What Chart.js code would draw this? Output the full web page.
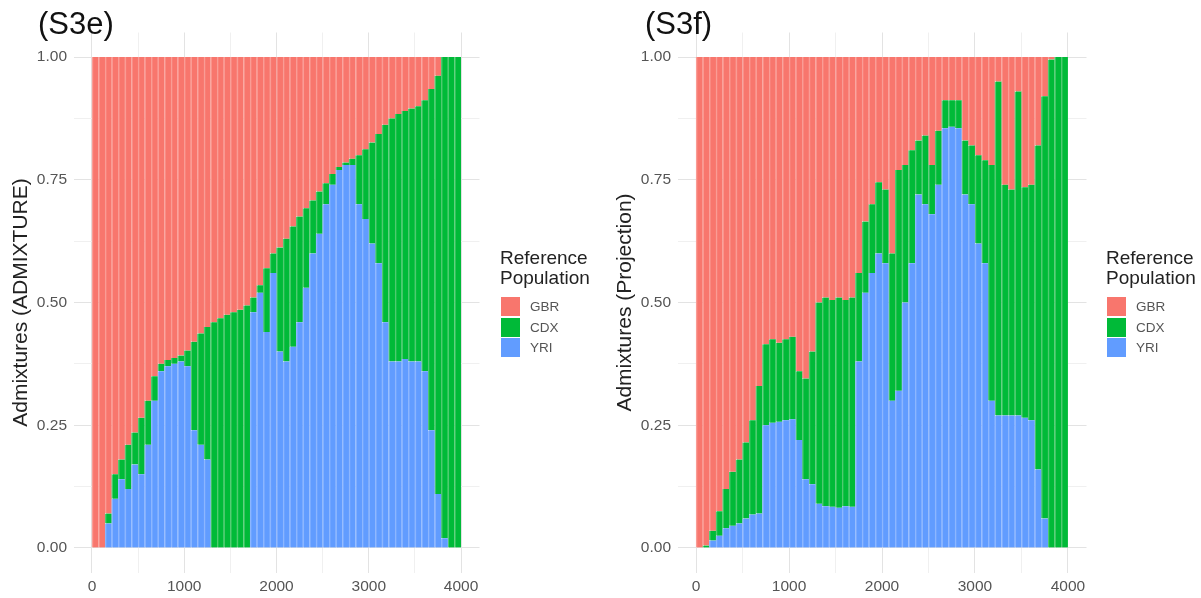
<!DOCTYPE html>
<html>
<head>
<meta charset="utf-8">
<script src="https://cdn.jsdelivr.net/npm/chart.js@4.4.1/dist/chart.umd.min.js"></script>
<style>
  html, body { margin: 0; padding: 0; background: #fff; width: 1201px; height: 598px; overflow: hidden;
    font-family: "Liberation Sans", Arial, sans-serif; }
  .panel { position: absolute; top: 0; height: 598px; }
  canvas { display: block; }
  .tag { position: absolute; top: 8px; font-size: 31px; line-height: 31px; color: #111; white-space: nowrap; }
  .legend { position: absolute; top: 0; }
  .legend .ttl { position: absolute; font-size: 19px; line-height: 20px; color: #222; white-space: nowrap; }
  .legend .key { position: absolute; width: 19px; height: 19px; }
  .legend .lbl { position: absolute; font-size: 13.5px; line-height: 19px; color: #555; }
</style>
</head>
<body>
<div class="panel" style="left:0;width:600px"><canvas id="admix" width="600" height="598"></canvas></div>
<div class="panel" style="left:600px;width:601px"><canvas id="proj" width="601" height="598"></canvas></div>
<div class="tag" style="left:38px">(S3e)</div>
<div class="tag" style="left:645px">(S3f)</div>
<div class="legend" id="legAdmix" style="left:500px"></div>
<div class="legend" id="legProj" style="left:1106px"></div>

<script>
// Reference populations, in legend order (top of stack first)
const populations = ['GBR', 'CDX', 'YRI'];
const popColors = { GBR: '#F8766D', CDX: '#00BA38', YRI: '#619CFF' };
const stripeColors = { GBR: '#FA9C95', CDX: '#4ECB70', YRI: '#8CB6FF' };
const legendTitle = ['Reference', 'Population'];

// Axis ticks
const nSamples = 4000;
const sampleTicks = [0, 1000, 2000, 3000, 4000];
const sampleMinorTicks = [500, 1500, 2500, 3500];
const shareTicks = [0, 0.25, 0.5, 0.75, 1];
const shareMinorTicks = [0.125, 0.375, 0.625, 0.875];

// Admixture proportions per block of samples (ADMIXTURE run)
const admixYRI = [0, 0, 0.05, 0.10, 0.14, 0.12, 0.17, 0.15, 0.21, 0.30,
  0.36, 0.37, 0.375, 0.38, 0.37, 0.24, 0.21, 0.18, 0, 0,
  0, 0, 0, 0, 0.48, 0.52, 0.44, 0.56, 0.40, 0.38,
  0.41, 0.46, 0.53, 0.60, 0.64, 0.70, 0.74, 0.77, 0.78, 0.78,
  0.70, 0.67, 0.62, 0.58, 0.46, 0.38, 0.38, 0.385, 0.38, 0.38,
  0.36, 0.24, 0.11, 0.02, 0, 0];
const admixCDX = [0, 0, 0.02, 0.05, 0.04, 0.09, 0.065, 0.115, 0.09, 0.05,
  0.015, 0.013, 0.012, 0.012, 0.032, 0.18, 0.227, 0.27, 0.46, 0.468,
  0.475, 0.48, 0.485, 0.494, 0.03, 0.015, 0.13, 0.04, 0.212, 0.25,
  0.245, 0.215, 0.162, 0.108, 0.086, 0.043, 0.022, 0.006, 0.005, 0.013,
  0.10, 0.142, 0.206, 0.263, 0.402, 0.495, 0.504, 0.505, 0.515, 0.52,
  0.552, 0.695, 0.852, 0.98, 1, 1];
const admixGBR = [1, 1, 0.93, 0.85, 0.82, 0.79, 0.765, 0.735, 0.70, 0.65,
  0.625, 0.617, 0.613, 0.608, 0.598, 0.58, 0.563, 0.55, 0.54, 0.532,
  0.525, 0.52, 0.515, 0.506, 0.49, 0.465, 0.43, 0.40, 0.388, 0.37,
  0.345, 0.325, 0.308, 0.292, 0.274, 0.257, 0.238, 0.224, 0.215, 0.207,
  0.20, 0.188, 0.174, 0.157, 0.138, 0.125, 0.116, 0.11, 0.105, 0.10,
  0.088, 0.065, 0.038, 0, 0, 0];

// Admixture proportions per block of samples (projection run)
const projYRI = [0, 0, 0.015, 0.025, 0.04, 0.045, 0.05, 0.06, 0.068, 0.07,
  0.25, 0.255, 0.257, 0.26, 0.262, 0.22, 0.14, 0.13, 0.09, 0.085,
  0.084, 0.082, 0.085, 0.084, 0.38, 0.52, 0.56, 0.60, 0.58, 0.30,
  0.32, 0.50, 0.58, 0.72, 0.70, 0.68, 0.74, 0.855, 0.858, 0.855,
  0.72, 0.70, 0.62, 0.58, 0.30, 0.27, 0.27, 0.27, 0.27, 0.265,
  0.26, 0.16, 0.06, 0, 0, 0];
const projCDX = [0, 0.005, 0.02, 0.05, 0.08, 0.11, 0.13, 0.155, 0.192, 0.26,
  0.165, 0.17, 0.161, 0.165, 0.168, 0.14, 0.205, 0.27, 0.41, 0.425,
  0.421, 0.428, 0.42, 0.426, 0.18, 0.145, 0.14, 0.145, 0.15, 0.30,
  0.45, 0.28, 0.23, 0.11, 0.14, 0.10, 0.11, 0.057, 0.054, 0.057,
  0.11, 0.12, 0.18, 0.21, 0.48, 0.68, 0.47, 0.46, 0.66, 0.47,
  0.48, 0.66, 0.86, 0.995, 1, 1];
const projGBR = [1, 0.995, 0.965, 0.925, 0.88, 0.845, 0.82, 0.785, 0.74, 0.67,
  0.585, 0.575, 0.582, 0.575, 0.57, 0.64, 0.655, 0.60, 0.50, 0.49,
  0.495, 0.49, 0.495, 0.49, 0.44, 0.335, 0.30, 0.255, 0.27, 0.40,
  0.23, 0.22, 0.19, 0.17, 0.16, 0.22, 0.15, 0.088, 0.088, 0.088,
  0.17, 0.18, 0.20, 0.21, 0.22, 0.05, 0.26, 0.27, 0.07, 0.265,
  0.26, 0.18, 0.08, 0.005, 0, 0];

// Each value covers an equal block of the sorted samples
const binWidth = nSamples / admixYRI.length;
const binCenters = admixYRI.map((_, i) => (i + 0.5) * binWidth);

const FONT = '"Liberation Sans", Arial, sans-serif';
const majorX = new Set(sampleTicks);
const majorY = new Set(shareTicks);

function makePanel(canvasId, yTitle, series, geom) {
  // stacked bottom to top: YRI, CDX, GBR
  const datasets = populations.slice().reverse().map(p => ({
    label: p,
    data: series[p].map((v, i) => ({ x: binCenters[i], y: v })),
    backgroundColor: popColors[p],
    borderColor: stripeColors[p],
    borderWidth: { left: 1.5, right: 0, top: 0, bottom: 0 },
    borderSkipped: false,
    barPercentage: 1,
    categoryPercentage: 1
  }));

  return new Chart(document.getElementById(canvasId), {
    type: 'bar',
    data: { datasets },
    options: {
      responsive: false,
      animation: false,
      devicePixelRatio: 1,
      layout: { padding: { left: 0, top: geom.top, right: geom.right, bottom: 0 } },
      plugins: { legend: { display: false }, tooltip: { enabled: false } },
      scales: {
        x: {
          type: 'linear',
          stacked: true,
          offset: false,
          min: -200,
          max: 4200,
          afterBuildTicks: s => {
            s.ticks = sampleTicks.concat(sampleMinorTicks).sort((a, b) => a - b).map(v => ({ value: v }));
          },
          afterFit: s => { s.height = geom.xAxisH; },
          border: { display: false },
          grid: {
            offset: false,
            drawTicks: false,
            lineWidth: 1,
            color: c => (c.tick && majorX.has(c.tick.value)) ? '#e3e3e3' : '#f0f0f0'
          },
          ticks: {
            autoSkip: false,
            maxRotation: 0,
            padding: 5,
            color: '#555',
            font: { family: FONT, size: 15.5 },
            callback: v => majorX.has(v) ? String(v) : ''
          }
        },
        y: {
          stacked: true,
          min: -0.05,
          max: 1.05,
          afterBuildTicks: s => {
            s.ticks = shareTicks.concat(shareMinorTicks).sort((a, b) => a - b).map(v => ({ value: v }));
          },
          afterFit: s => { s.width = geom.yAxisW; },
          border: { display: false },
          grid: {
            drawTicks: false,
            lineWidth: 1,
            color: c => (c.tick && majorY.has(c.tick.value)) ? '#e3e3e3' : '#f0f0f0'
          },
          ticks: {
            autoSkip: false,
            padding: 6.5,
            color: '#555',
            font: { family: FONT, size: 15.5 },
            callback: v => majorY.has(v) ? v.toFixed(2) : ''
          },
          title: {
            display: true,
            text: yTitle,
            color: '#222',
            font: { family: FONT, size: 21 },
            padding: { top: geom.titlePad, bottom: 0 }
          }
        }
      }
    }
  });
}

makePanel('admix', 'Admixtures (ADMIXTURE)',
  { GBR: admixGBR, CDX: admixCDX, YRI: admixYRI },
  { top: 32.5, right: 120.5, xAxisH: 25.5, yAxisW: 73.5, titlePad: 8.4 });

makePanel('proj', 'Admixtures (Projection)',
  { GBR: projGBR, CDX: projCDX, YRI: projYRI },
  { top: 32.5, right: 114.5, xAxisH: 25.5, yAxisW: 77.5, titlePad: 12.8 });

// Legends beside each panel
function buildLegend(id) {
  const el = document.getElementById(id);
  legendTitle.forEach((line, k) => {
    const t = document.createElement('div');
    t.className = 'ttl';
    t.style.left = '0px';
    t.style.top = (248 + k * 20) + 'px';
    t.textContent = line;
    el.appendChild(t);
  });
  populations.forEach((p, k) => {
    const key = document.createElement('div');
    key.className = 'key';
    key.style.left = '1px';
    key.style.top = (297 + k * 20.5) + 'px';
    key.style.background = popColors[p];
    el.appendChild(key);
    const lbl = document.createElement('div');
    lbl.className = 'lbl';
    lbl.style.left = '30px';
    lbl.style.top = (297 + k * 20.5) + 'px';
    lbl.textContent = p;
    el.appendChild(lbl);
  });
}
buildLegend('legAdmix');
buildLegend('legProj');
</script>
</body>
</html>
